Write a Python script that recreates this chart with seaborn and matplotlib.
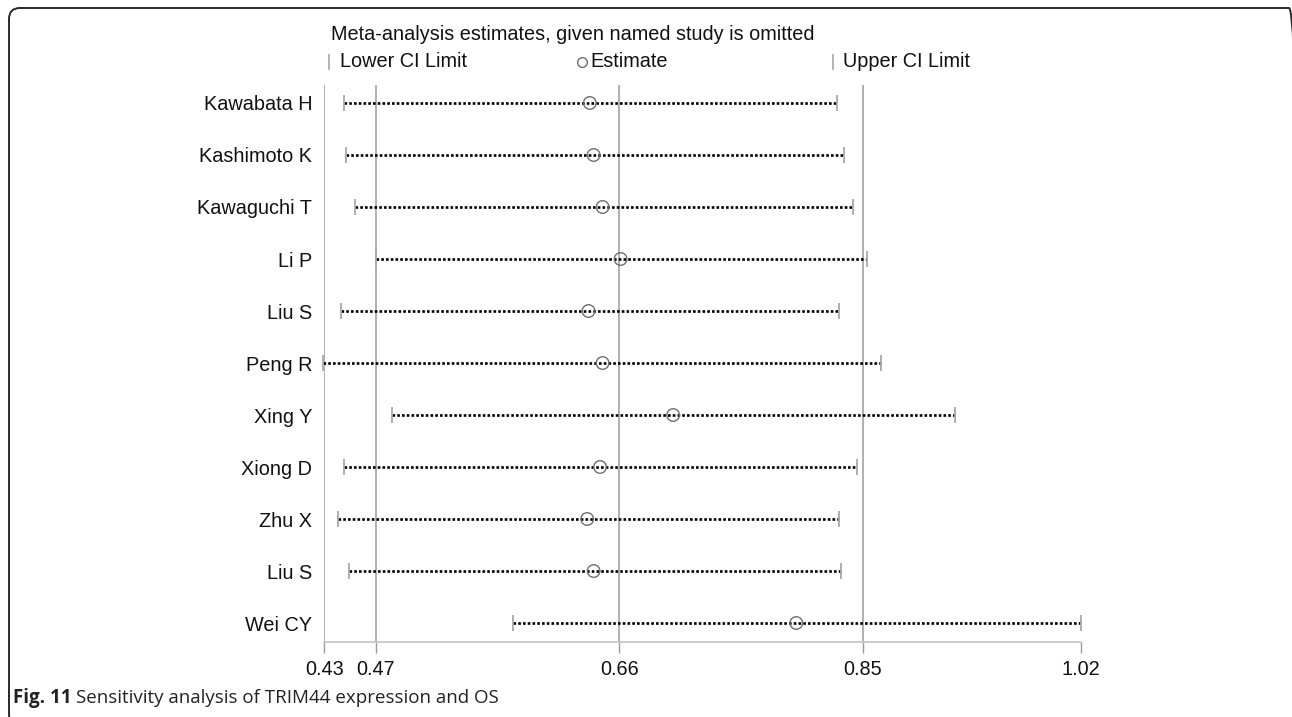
import numpy as np
import pandas as pd
import matplotlib
matplotlib.use("Agg")
import matplotlib.pyplot as plt
import seaborn as sns
from matplotlib.lines import Line2D
from matplotlib.patches import FancyBboxPatch
from matplotlib.transforms import IdentityTransform

# Data
studies = ["Kawabata H", "Kashimoto K", "Kawaguchi T", "Li P", "Liu S", "Peng R",
           "Xing Y", "Xiong D", "Zhu X", "Liu S", "Wei CY"]
lower = [0.445, 0.447, 0.454, 0.470, 0.443, 0.429, 0.483, 0.445, 0.441, 0.449, 0.577]
estimate = [0.637, 0.640, 0.647, 0.661, 0.636, 0.647, 0.702, 0.645, 0.635, 0.640, 0.798]
upper = [0.830, 0.835, 0.842, 0.853, 0.831, 0.864, 0.922, 0.845, 0.831, 0.833, 1.020]
xticks = [0.43, 0.47, 0.66, 0.85, 1.02]
ref_lines = [0.43, 0.47, 0.66, 0.85]

df = pd.DataFrame({"study": studies, "lower": lower, "estimate": estimate, "upper": upper})
df["pos"] = np.arange(len(df))

sns.set_theme(style="white")
plt.rcParams["font.family"] = ["Liberation Sans", "DejaVu Sans"]

W, H = 1292, 717
fig = plt.figure(figsize=(W / 100, H / 100), dpi=100)
fx = lambda x: x / W
fy = lambda y: 1 - y / H

ax = fig.add_axes([fx(324.3), fy(642), (1081 - 324.3) / W, (642 - 85) / H])

# reference vertical lines
for v in ref_lines:
    ax.axvline(v, color="#9a9a9a", lw=1.1, zorder=0)

# dotted CI lines
ax.hlines(df["pos"], df["lower"], df["upper"], color="black", lw=1.9,
          linestyles=[(0, (1, 0.8))], zorder=2)

# CI limit bars
sns.scatterplot(data=df, x="lower", y="pos", marker="|", s=130, color="#a8a8a8",
                linewidth=1.3, ax=ax, legend=False, clip_on=False, zorder=3)
sns.scatterplot(data=df, x="upper", y="pos", marker="|", s=130, color="#a8a8a8",
                linewidth=1.3, ax=ax, legend=False, clip_on=False, zorder=3)
# estimates
sns.scatterplot(data=df, x="estimate", y="pos", marker="o", s=82, facecolor="none",
                edgecolor="#6e6e6e", linewidth=1.0, ax=ax, legend=False, zorder=4)

ax.set_xlim(0.43, 1.02)
ax.set_ylim(10.365, -0.346)
ax.set_xticks(xticks)
ax.set_xticklabels([f"{t:.2f}" for t in xticks], fontsize=14.3)
ax.set_yticks(df["pos"])
ax.set_yticklabels(df["study"], fontsize=14.3)
ax.set_xlabel("")
ax.set_ylabel("")
ax.tick_params(axis="x", direction="out", length=8, width=1, color="#9a9a9a", pad=5,
               bottom=True, labelcolor="#111111")
ax.tick_params(axis="y", length=0, pad=8.5, labelcolor="#111111")
for s in ["top", "right", "left"]:
    ax.spines[s].set_visible(False)
ax.spines["bottom"].set_color("#c4c4c4")
ax.spines["bottom"].set_linewidth(1.2)
ax.patch.set_alpha(0)

# header and legend row
fig.text(fx(331), fy(34), "Meta-analysis estimates, given named study is omitted",
         fontsize=14.3, va="center", ha="left", color="#111111")
leg_y = fy(61.5)
fig.add_artist(Line2D([fx(329)], [leg_y], marker="|", markersize=11, color="#a8a8a8",
                      markeredgewidth=1.2, transform=fig.transFigure))
fig.text(fx(340), leg_y, "Lower CI Limit", fontsize=14.3, va="center", ha="left", color="#111111")
fig.add_artist(Line2D([fx(582)], [leg_y], marker="o", markersize=7, markerfacecolor="none",
                      markeredgecolor="#6e6e6e", markeredgewidth=1.0, transform=fig.transFigure))
fig.text(fx(590), leg_y, "Estimate", fontsize=14.3, va="center", ha="left", color="#111111")
fig.add_artist(Line2D([fx(833)], [leg_y], marker="|", markersize=11, color="#a8a8a8",
                      markeredgewidth=1.2, transform=fig.transFigure))
fig.text(fx(843), leg_y, "Upper CI Limit", fontsize=14.3, va="center", ha="left", color="#111111")

# frame around the figure (only top and left edges fall inside the image)
frame = FancyBboxPatch((9, -8), W + 8 - 9, (H - 8) + 8, boxstyle="round,pad=0,rounding_size=11",
                       transform=IdentityTransform(), fill=False, edgecolor="#2a2a2a", lw=1.4)
fig.add_artist(frame)

# caption
cap1 = fig.text(fx(13), fy(698), "Fig. 11", fontsize=13.5, fontweight="bold",
                family=["Open Sans", "DejaVu Sans"], va="center", ha="left", color="#222222")
fig.canvas.draw()
bb = cap1.get_window_extent()
fig.text((bb.x1 + 5) / W, fy(698), "Sensitivity analysis of TRIM44 expression and OS",
         fontsize=13.5, family=["Open Sans", "DejaVu Sans"], va="center", ha="left", color="#222222")

fig.savefig("out.png", dpi=100)
